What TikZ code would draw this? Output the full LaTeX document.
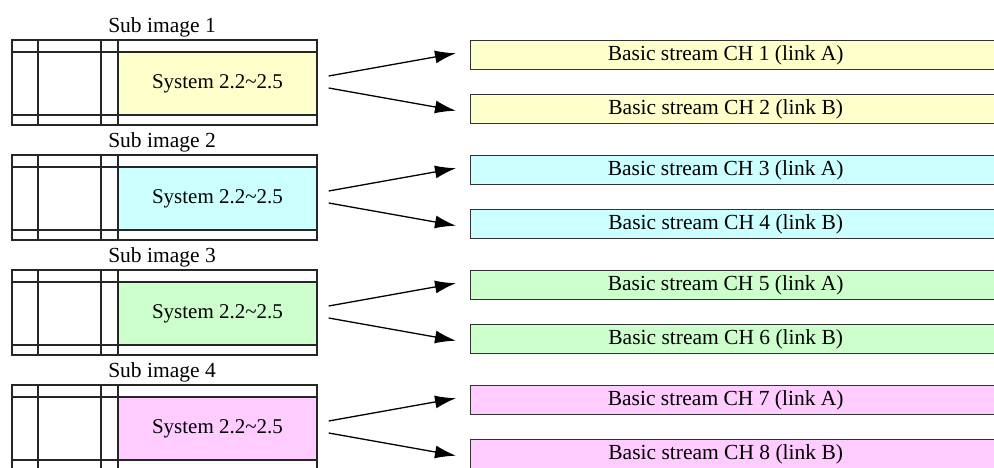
\documentclass[tikz,border=0pt]{standalone}
\usepackage{fontspec}
\setmainfont{Liberation Serif}
\usetikzlibrary{positioning}
\usetikzlibrary{calc}
\usetikzlibrary{arrows.meta}

\begin{document}
\begin{tikzpicture}[x=1pt,y=-1pt,
	frame/.style={line width=1.4pt,color=black!85},
	sysbox/.style={draw=black!85,line width=1.4pt,minimum width=199pt,minimum height=63pt,inner sep=0pt,font=\fontsize{21}{25}\selectfont},
	streambox/.style={draw=black!80,line width=1.4pt,minimum width=540pt,minimum height=29pt,inner sep=0pt,anchor=north west},
	streamtext/.style={font=\fontsize{21.5}{25}\selectfont},
	feed/.style={line width=1.3pt,-{Latex[length=21pt,width=13pt]}}]
	\definecolor{subyel}{rgb}{1,1,0.8}
	\definecolor{subcya}{rgb}{0.8,1,1}
	\definecolor{subgrn}{rgb}{0.8,1,0.8}
	\definecolor{submag}{rgb}{1,0.8,1}

	\useasboundingbox (0,0) rectangle (994,468);
	\clip (0,0) rectangle (994,468);

	\foreach \k/\fillc/\chA/\chB in {1/subyel/1/2, 2/subcya/3/4, 3/subgrn/5/6, 4/submag/7/8}{
		\pgfmathsetmacro{\dy}{115*(\k-1)}
		\begin{scope}[yshift=-\dy pt]
			% sub image frame
			\node[sysbox,fill=\fillc] (sys\k) at (217.5,84) {System 2.2\textasciitilde2.5};
			\draw[frame] (12,40) rectangle (317,125);
			\draw[frame] (38,40) -- (38,125) (101,40) -- (101,125) (118,40) -- (118,125);
			\draw[frame] (12,52) -- (317,52) (12,115) -- (317,115);
			\node[streamtext] (sub\k) at (162,27) {Sub image \k};

			% streams
			\node[streambox,fill=\fillc,label={[streamtext,xshift=-15pt,yshift=-0.5pt]center:Basic stream CH \chA\ (link A)}] (chA\k) at (470,40) {};
			\node[streambox,fill=\fillc,label={[streamtext,xshift=-15pt,yshift=-0.5pt]center:Basic stream CH \chB\ (link B)}] (chB\k) at (470,94) {};

			\draw[feed] ($(sys\k.east)+(11,-8)$) -- ($(chA\k.west)+(-14,-2)$);
			\draw[feed] ($(sys\k.east)+(11,4)$) -- ($(chB\k.west)+(-14,1.5)$);
		\end{scope}
	}
\end{tikzpicture}
\end{document}
